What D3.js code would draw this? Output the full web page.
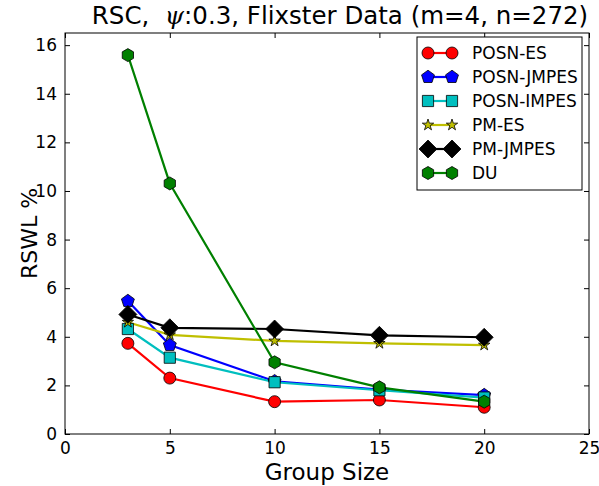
<!DOCTYPE html>
<html><head><meta charset="utf-8">
<script src="https://cdn.jsdelivr.net/npm/d3@7"></script>
<style>body{margin:0;background:#fff;} svg{display:block;}</style>
</head><body>
<script>
const groupSizes = [3, 5, 10, 15, 20];
const posnES    = [3.73, 2.30, 1.33, 1.40, 1.10];
const posnJMPES = [5.47, 3.66, 2.17, 1.83, 1.60];
const posnIMPES = [4.32, 3.14, 2.13, 1.80, 1.50];
const pmES      = [4.60, 4.08, 3.83, 3.73, 3.66];
const pmJMPES   = [4.92, 4.37, 4.32, 4.06, 3.98];
const du        = [15.59, 10.31, 2.95, 1.92, 1.33];
const seriesNames = ["POSN-ES", "POSN-JMPES", "POSN-IMPES", "PM-ES", "PM-JMPES", "DU"];
const xTicks = [0, 5, 10, 15, 20, 25];
const yTicks = [0, 2, 4, 6, 8, 10, 12, 14, 16];

const W = 599, H = 486;
const m = {left: 65, right: 589, top: 33, bottom: 434};
const x = d3.scaleLinear().domain([0, 25]).range([m.left, m.right]);
const y = d3.scaleLinear().domain([0, 16.5]).range([m.bottom, m.top]);
const FONT = "DejaVu Sans, sans-serif";

const svg = d3.select("body").append("svg").attr("width", W).attr("height", H);

function polygon(n, r, rot) {
  const pts = [];
  for (let i = 0; i < n; i++) {
    const a = rot + i * 2 * Math.PI / n;
    pts.push([r * Math.sin(a), -r * Math.cos(a)]);
  }
  return "M" + pts.map(p => p.join(",")).join("L") + "Z";
}
function star(r) {
  const pts = [];
  for (let i = 0; i < 10; i++) {
    const rr = i % 2 ? r * 0.38 : r;
    const a = i * Math.PI / 5;
    pts.push([rr * Math.sin(a), -rr * Math.cos(a)]);
  }
  return "M" + pts.map(p => p.join(",")).join("L") + "Z";
}
const markers = [
  {path: "M6,0A6,6 0 1,1 -6,0A6,6 0 1,1 6,0Z", color: "#ff0000"},
  {path: polygon(5, 6.8, 0), color: "#0000ff"},
  {path: "M-5.6,-5.6L5.6,-5.6L5.6,5.6L-5.6,5.6Z", color: "#00bfbf"},
  {path: star(6), color: "#bfbf00"},
  {path: polygon(4, 9, 0), color: "#000000"},
  {path: polygon(6, 6.5, 0), color: "#008000"}
];
const data = [posnES, posnJMPES, posnIMPES, pmES, pmJMPES, du];

const plot = svg.append("g");
const line = d3.line().x((d, i) => x(groupSizes[i])).y(d => y(d));
data.forEach((vals, k) => {
  plot.append("path").datum(vals).attr("d", line)
    .attr("fill", "none").attr("stroke", markers[k].color).attr("stroke-width", 2.2);
});
data.forEach((vals, k) => {
  plot.selectAll(null).data(vals).enter().append("path")
    .attr("d", markers[k].path)
    .attr("transform", (d, i) => `translate(${x(groupSizes[i])},${y(d)})`)
    .attr("fill", markers[k].color).attr("stroke", "#000").attr("stroke-width", 0.8);
});

// frame
svg.append("rect").attr("x", m.left).attr("y", m.top)
  .attr("width", m.right - m.left).attr("height", m.bottom - m.top)
  .attr("fill", "none").attr("stroke", "#000").attr("stroke-width", 1);

// axes (ticks inward)
const xb = svg.append("g").attr("transform", `translate(0,${m.bottom})`)
  .call(d3.axisBottom(x).tickValues(xTicks).tickSize(-5).tickPadding(8).tickFormat(d3.format("d")));
const xt = svg.append("g").attr("transform", `translate(0,${m.top})`)
  .call(d3.axisTop(x).tickValues(xTicks).tickSize(-5).tickFormat(""));
const yl = svg.append("g").attr("transform", `translate(${m.left},0)`)
  .call(d3.axisLeft(y).tickValues(yTicks).tickSize(-5).tickPadding(8).tickFormat(d3.format("d")));
const yr = svg.append("g").attr("transform", `translate(${m.right},0)`)
  .call(d3.axisRight(y).tickValues(yTicks).tickSize(-5).tickFormat(""));
[xb, xt, yl, yr].forEach(g => {
  g.select(".domain").remove();
  g.selectAll("text").attr("font-family", FONT).attr("font-size", 17).attr("fill", "#000");
  g.selectAll("line").attr("stroke", "#000");
});

// labels
svg.append("text").attr("x", (m.left + m.right) / 2).attr("y", 480)
  .attr("text-anchor", "middle").attr("font-family", FONT).attr("font-size", 23)
  .text("Group Size");
svg.append("text").attr("transform", `translate(37,${(m.top + m.bottom) / 2}) rotate(-90)`)
  .attr("text-anchor", "middle").attr("font-family", FONT).attr("font-size", 22)
  .text("RSWL %");
const title = svg.append("text").attr("x", 340).attr("y", 24)
  .attr("text-anchor", "middle").attr("font-family", FONT).attr("font-size", 24.5);
title.append("tspan").text("RSC,\u00a0\u00a0");
title.append("tspan").attr("font-style", "italic").attr("font-family", "DejaVu Serif, serif").text("ψ");
title.append("tspan").text(":0.3, Flixster Data (m=4, n=272)");

// legend
const lg = svg.append("g");
lg.append("rect").attr("x", 417).attr("y", 37).attr("width", 165).attr("height", 153)
  .attr("fill", "#fff").attr("stroke", "#000").attr("stroke-width", 1);
seriesNames.forEach((name, k) => {
  const ry = 53 + k * 24;
  lg.append("line").attr("x1", 428).attr("x2", 452).attr("y1", ry).attr("y2", ry)
    .attr("stroke", markers[k].color).attr("stroke-width", 2.2);
  [428, 452].forEach(px => lg.append("path").attr("d", markers[k].path)
    .attr("transform", `translate(${px},${ry})`)
    .attr("fill", markers[k].color).attr("stroke", "#000").attr("stroke-width", 0.8));
  lg.append("text").attr("x", 472).attr("y", ry).attr("dy", "0.36em")
    .attr("font-family", FONT).attr("font-size", 17).text(name);
});
</script>
</body></html>
